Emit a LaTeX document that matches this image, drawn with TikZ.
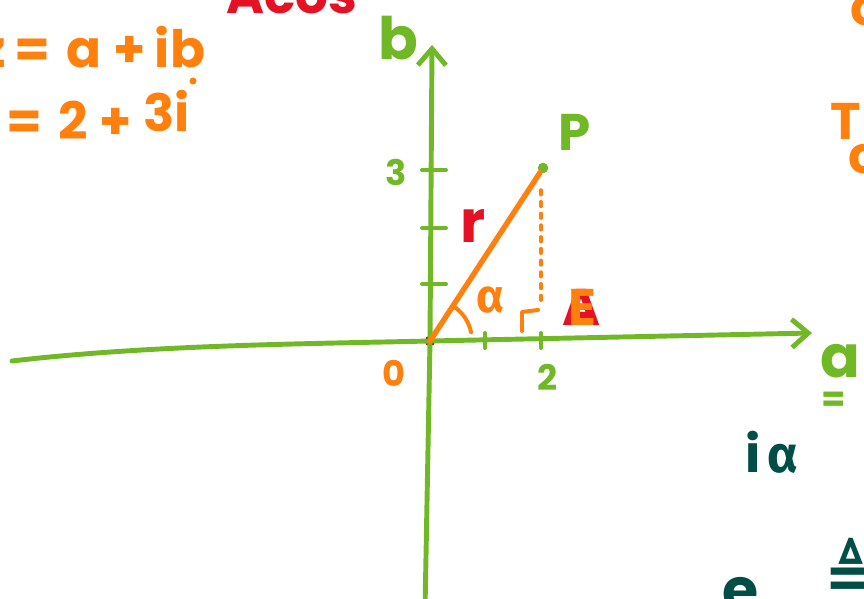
\documentclass[tikz,border=0pt]{standalone}
\usepackage{fontspec}
\setmainfont{Poppins}
\newfontfamily\greekfont{Fira Sans}
\newfontfamily\symfont{DejaVu Sans}
\usetikzlibrary{arrows.meta, positioning}
\definecolor{axisgreen}{RGB}{112,184,38}
\definecolor{penorange}{RGB}{255,128,12}
\definecolor{penred}{RGB}{228,18,36}
\definecolor{penteal}{RGB}{0,78,70}
\definecolor{origred}{RGB}{120,22,12}

\begin{document}
\begin{tikzpicture}[x=0.03cm, y=-0.03cm, line cap=round, line join=round,
    >={Straight Barb[length=14pt, width=24pt]},
    every node/.style={inner sep=0pt, font=\bfseries\fontsize{30}{32}\selectfont},
    axis/.style={draw=axisgreen, line width=4.2pt},
    tick/.style={draw=axisgreen, line width=3.4pt},
    pen/.style={draw=penorange, line width=3.4pt},
    dot/.style={circle, minimum size=9pt},
    big/.style={font=\bfseries\fontsize{44}{46}\selectfont},
    huge/.style={font=\bfseries\fontsize{50}{52}\selectfont}]
    \useasboundingbox (0,0) rectangle (864,599);
    \clip (0,0) rectangle (864,599);

    % Axes
    \node[dot, fill=origred] (O) at (430,341) {};
    \coordinate (xl) at (12,361);
    \coordinate (xr) at (812,333);
    \coordinate (yt) at (432,45);
    \coordinate (yb) at (425,610);
    \draw[axis] (xl) .. controls (150,345) and (300,344) .. (O.center);
    \draw[axis, ->] (O.center) -- (xr);
    \draw[axis] (yb) -- (O.center);
    \draw[axis, ->] (O.center) -- (yt);

    % Ticks
    \foreach \ty in {170,228,284}
        \draw[tick] (422,\ty) -- (446,\ty);
    \foreach \tx in {485,541}
        \draw[tick] (\tx,333) -- (\tx,348);

    % Point P and radius
    \node[dot, fill=axisgreen] (P) at (543,168) {};
    \draw[pen, line width=4.6pt] (O.center) -- (P);
    \coordinate (Pd) at (541,190);
    \coordinate (F) at (541,302);
    \draw[pen, line width=3pt, dash pattern=on 4pt off 6pt] (Pd) -- (F);
    \draw[pen] (522,331) -- (522,312) -- (538,310);
    \draw[pen] (O.center) ++(-57:42) arc[start angle=-57, end angle=-12, radius=42];

    % Labels
    \node[huge, text=axisgreen] (lblb) at (398,38) {b};
    \node[huge, text=axisgreen] (lbla) at (840,361) {a};
    \node[text=axisgreen] (lbleq) at (834,402) {=};
    \node[text=axisgreen] (lbl3) at (396,172) {3};
    \node[text=axisgreen] (lbl2) at (548,377) {2};
    \node[text=penorange] (lbl0) at (394,373) {0};
    \node[big, text=axisgreen] (lblP) at (575,132) {P};
    \node[huge, text=penred] (lblr) at (473,226) {r};
    \node[text=penorange, font=\greekfont\bfseries\fontsize{40}{42}\selectfont] (lblalpha) at (491,300) {α};
    \node[big, text=penred] (lblA) at (581,307) {A};
    \node[big, text=penorange] (lblE) at (582,307) {E};

    % Equations
    \node[big, text=penorange, anchor=base east] (zname) at (6,68) {z};
    \node[big, text=penorange, anchor=base west] (zdef) at (14,68) {=\hspace{14pt}a\hspace{10pt}+\hspace{8pt}ib};
    \node[circle, fill=penorange, minimum size=6pt] (bdot) at (193,81) {};
    \node[big, text=penorange, anchor=base west] (zval) at (6,140) {=\hspace{14pt}2\hspace{10pt}+\hspace{10pt}\raisebox{7pt}{3i}};

    % Cut-off notes
    \node[big, text=penred, anchor=base west] (acos) at (226,14) {Acos};
    \node[big, text=penorange, anchor=base west] (noteC) at (850,26) {c};
    \node[big, text=penorange, anchor=base west] (noteT) at (830,140) {T};
    \node[big, text=penorange, anchor=base west] (noteO) at (848,174) {c};
    \node[huge, text=penteal, anchor=base west] (euler) at (722,610) {e};
    \node[big, text=penteal, anchor=base west] (eulerexp) at (745,472) {i\hspace{6pt}{\greekfont\bfseries α}};
    \node[text=penteal, font=\symfont\bfseries\fontsize{54}{56}\selectfont] (defeq) at (851,568) {≜};
\end{tikzpicture}
\end{document}
